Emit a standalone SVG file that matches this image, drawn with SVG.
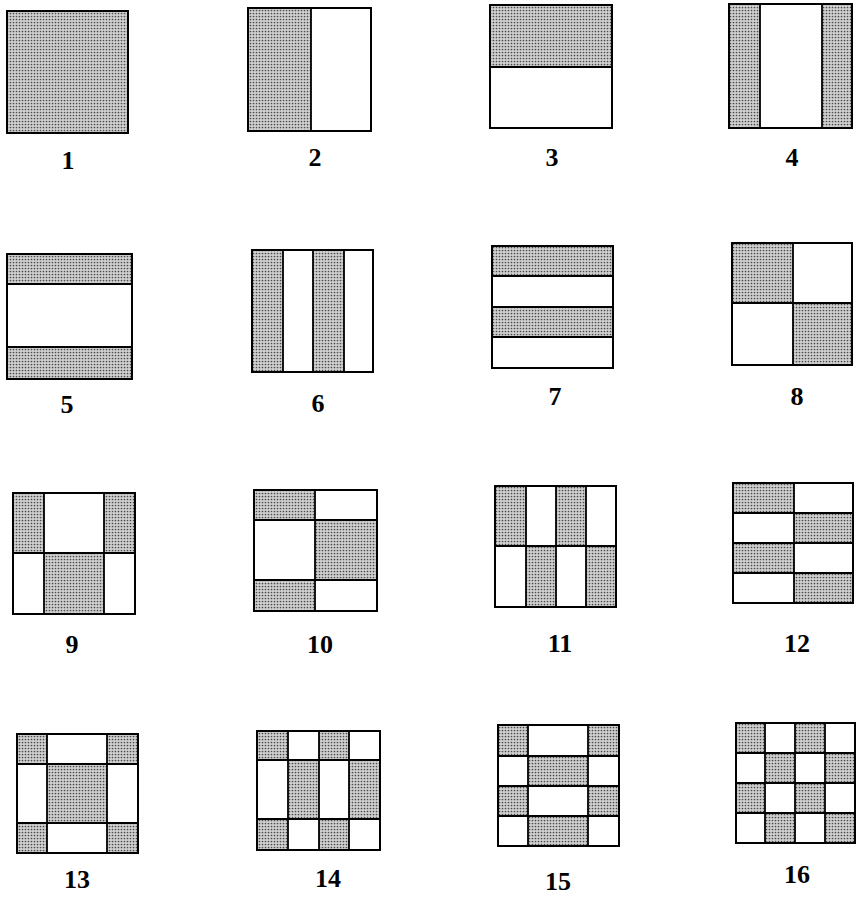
<svg xmlns="http://www.w3.org/2000/svg" width="859" height="900" viewBox="0 0 859 900">
<defs>
<pattern id="dots" patternUnits="userSpaceOnUse" width="3" height="3">
<rect width="3" height="3" fill="#d0d0d0"/>
<circle cx="1.5" cy="1.5" r="0.85" fill="#4a4a4a"/>
</pattern>
</defs>
<style>
.s{fill:url(#dots);stroke:none}
.b{fill:none;stroke:#000;stroke-width:2}
.l{fill:none;stroke:#000;stroke-width:1.8}
.t{font-family:"Liberation Serif","Times New Roman",serif;font-size:26px;font-weight:bold;text-anchor:middle;fill:#000}
</style>
<rect width="859" height="900" fill="#fff"/>
<g id="p1">
<rect class="s" x="7" y="11" width="121" height="122"/>
<rect class="b" x="7" y="11" width="121" height="122"/>
<text class="t" x="68" y="169">1</text>
</g>
<g id="p2">
<rect class="s" x="248" y="8" width="63" height="123"/>
<path class="l" d="M311 8V131"/>
<rect class="b" x="248" y="8" width="123" height="123"/>
<text class="t" x="315" y="166">2</text>
</g>
<g id="p3">
<rect class="s" x="490" y="5" width="122" height="62"/>
<path class="l" d="M490 67H612"/>
<rect class="b" x="490" y="5" width="122" height="123"/>
<text class="t" x="552" y="166">3</text>
</g>
<g id="p4">
<rect class="s" x="729" y="4" width="31" height="124"/>
<rect class="s" x="822" y="4" width="30" height="124"/>
<path class="l" d="M760 4V128M822 4V128"/>
<rect class="b" x="729" y="4" width="123" height="124"/>
<text class="t" x="792" y="166">4</text>
</g>
<g id="p5">
<rect class="s" x="7" y="254" width="125" height="30"/>
<rect class="s" x="7" y="347" width="125" height="32"/>
<path class="l" d="M7 284H132M7 347H132"/>
<rect class="b" x="7" y="254" width="125" height="125"/>
<text class="t" x="67" y="413">5</text>
</g>
<g id="p6">
<rect class="s" x="252" y="250" width="31" height="122"/>
<rect class="s" x="313" y="250" width="31" height="122"/>
<path class="l" d="M283 250V372M313 250V372M344 250V372"/>
<rect class="b" x="252" y="250" width="121" height="122"/>
<text class="t" x="318" y="412">6</text>
</g>
<g id="p7">
<rect class="s" x="492" y="246" width="121" height="30"/>
<rect class="s" x="492" y="307" width="121" height="30"/>
<path class="l" d="M492 276H613M492 307H613M492 337H613"/>
<rect class="b" x="492" y="246" width="121" height="122"/>
<text class="t" x="555" y="405">7</text>
</g>
<g id="p8">
<rect class="s" x="732" y="243" width="61" height="60"/>
<rect class="s" x="793" y="303" width="59" height="62"/>
<path class="l" d="M793 243V365M732 303H852"/>
<rect class="b" x="732" y="243" width="120" height="122"/>
<text class="t" x="797" y="405">8</text>
</g>
<g id="p9">
<rect class="s" x="13" y="493" width="31" height="60"/>
<rect class="s" x="104" y="493" width="31" height="60"/>
<rect class="s" x="44" y="553" width="60" height="61"/>
<path class="l" d="M44 493V614M104 493V614M13 553H135"/>
<rect class="b" x="13" y="493" width="122" height="121"/>
<text class="t" x="72" y="653">9</text>
</g>
<g id="p10">
<rect class="s" x="254" y="490" width="61" height="30"/>
<rect class="s" x="254" y="580" width="61" height="31"/>
<rect class="s" x="315" y="520" width="62" height="60"/>
<path class="l" d="M315 490V611M254 520H377M254 580H377"/>
<rect class="b" x="254" y="490" width="123" height="121"/>
<text class="t" x="320" y="653">10</text>
</g>
<g id="p11">
<rect class="s" x="495" y="486" width="31" height="60"/>
<rect class="s" x="556" y="486" width="30" height="60"/>
<rect class="s" x="526" y="546" width="30" height="61"/>
<rect class="s" x="586" y="546" width="30" height="61"/>
<path class="l" d="M526 486V607M556 486V607M586 486V607M495 546H616"/>
<rect class="b" x="495" y="486" width="121" height="121"/>
<text class="t" x="560" y="652">11</text>
</g>
<g id="p12">
<rect class="s" x="733" y="483" width="61" height="30"/>
<rect class="s" x="733" y="543" width="61" height="30"/>
<rect class="s" x="794" y="513" width="59" height="30"/>
<rect class="s" x="794" y="573" width="59" height="30"/>
<path class="l" d="M794 483V603M733 513H853M733 543H853M733 573H853"/>
<rect class="b" x="733" y="483" width="120" height="120"/>
<text class="t" x="797" y="652">12</text>
</g>
<g id="p13">
<rect class="s" x="17" y="734" width="30" height="30"/>
<rect class="s" x="107" y="734" width="31" height="30"/>
<rect class="s" x="47" y="764" width="60" height="59"/>
<rect class="s" x="17" y="823" width="30" height="30"/>
<rect class="s" x="107" y="823" width="31" height="30"/>
<path class="l" d="M47 734V853M107 734V853M17 764H138M17 823H138"/>
<rect class="b" x="17" y="734" width="121" height="119"/>
<text class="t" x="77" y="888">13</text>
</g>
<g id="p14">
<rect class="s" x="257" y="731" width="31" height="29"/>
<rect class="s" x="319" y="731" width="30" height="29"/>
<rect class="s" x="288" y="760" width="31" height="59"/>
<rect class="s" x="349" y="760" width="31" height="59"/>
<rect class="s" x="257" y="819" width="31" height="31"/>
<rect class="s" x="319" y="819" width="30" height="31"/>
<path class="l" d="M288 731V850M319 731V850M349 731V850M257 760H380M257 819H380"/>
<rect class="b" x="257" y="731" width="123" height="119"/>
<text class="t" x="328" y="887">14</text>
</g>
<g id="p15">
<rect class="s" x="498" y="725" width="30" height="31"/>
<rect class="s" x="588" y="725" width="31" height="31"/>
<rect class="s" x="528" y="756" width="60" height="30"/>
<rect class="s" x="498" y="786" width="30" height="30"/>
<rect class="s" x="588" y="786" width="31" height="30"/>
<rect class="s" x="528" y="816" width="60" height="30"/>
<path class="l" d="M528 725V846M588 725V846M498 756H619M498 786H619M498 816H619"/>
<rect class="b" x="498" y="725" width="121" height="121"/>
<text class="t" x="558" y="890">15</text>
</g>
<g id="p16">
<rect class="s" x="736" y="723" width="29" height="30"/>
<rect class="s" x="795" y="723" width="30" height="30"/>
<rect class="s" x="765" y="753" width="30" height="30"/>
<rect class="s" x="825" y="753" width="30" height="30"/>
<rect class="s" x="736" y="783" width="29" height="30"/>
<rect class="s" x="795" y="783" width="30" height="30"/>
<rect class="s" x="765" y="813" width="30" height="30"/>
<rect class="s" x="825" y="813" width="30" height="30"/>
<path class="l" d="M765 723V843M795 723V843M825 723V843M736 753H855M736 783H855M736 813H855"/>
<rect class="b" x="736" y="723" width="119" height="120"/>
<text class="t" x="797" y="883">16</text>
</g>
<g id="connectors"/>
</svg>
